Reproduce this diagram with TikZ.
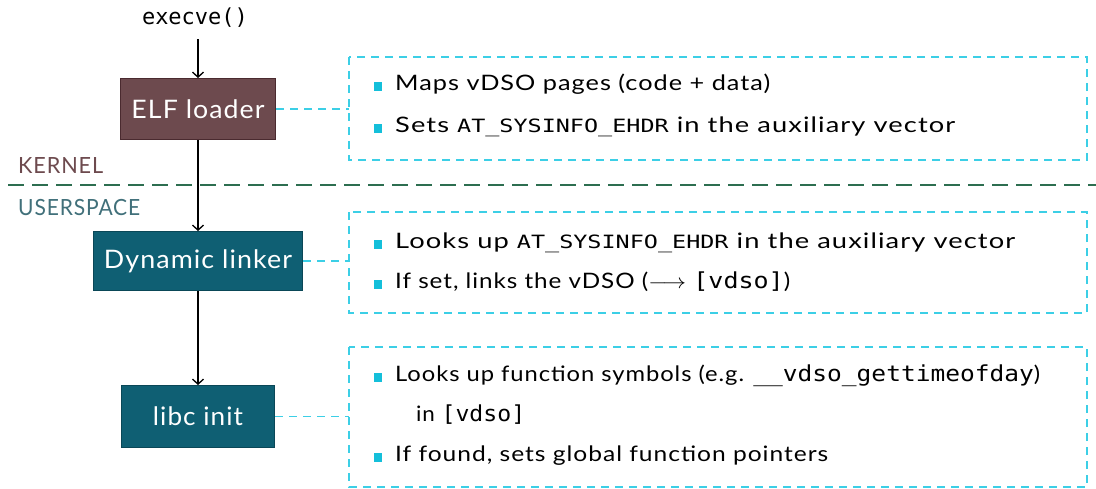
\documentclass[tikz,border=0pt]{standalone}
\usepackage{fontspec}
\usepackage{graphicx}
\setmainfont{Lato}[LetterSpace=4]
\setmonofont{DejaVu Sans Mono}
\usetikzlibrary{arrows.meta}
\definecolor{kbrown}{HTML}{6D4A4E}
\definecolor{kbrownd}{HTML}{4A2A2F}
\definecolor{uteal}{HTML}{0F5F73}
\definecolor{utealb}{HTML}{0A4757}
\definecolor{cyanl}{HTML}{3CCFE6}
\definecolor{cyanb}{HTML}{14BFDA}
\definecolor{sepgreen}{HTML}{2D6E50}
\definecolor{ulabel}{HTML}{41707A}
\tikzset{
  stagebox/.style={draw, line width=1pt, text=white, font=\fontsize{25.5}{28}\selectfont, inner sep=0pt, anchor=north west},
  infobox/.style={draw=cyanl, line width=1.4pt, dash pattern=on 8pt off 6pt},
  flow/.style={-{Straight Barb[length=5pt,width=11pt]}, line width=1.3pt, black},
  link/.style={draw=cyanl, line width=1.6pt, dash pattern=on 8pt off 6pt},
  itemtext/.style={anchor=base west, inner sep=0pt, font=\fontsize{21.3}{24}\selectfont},
  zonetext/.style={anchor=base west, inner sep=0pt, font=\fontsize{22.3}{24}\selectfont},
  bullet/.style={fill=cyanb, minimum size=8.5pt, inner sep=0pt},
}
\newcommand{\fitw}[2]{\resizebox{#1}{\height}{#2}}
\newcommand{\mtt}[1]{{\fontsize{22}{24}\selectfont\ttfamily #1}}
\newcommand{\mts}[1]{{\fontsize{18.3}{20}\selectfont\ttfamily #1}}
\begin{document}
\begin{tikzpicture}[x=1pt,y=-1pt]
\useasboundingbox (0,0) rectangle (1096,488);
% execve
\node[font=\fontsize{22}{24}\selectfont\ttfamily, inner sep=0pt] (exe) at (195,18) {\fitw{106pt}{execve()}};
% stage boxes
\node[stagebox, fill=kbrown, draw=kbrownd, minimum width=155pt, minimum height=61pt] (elf) at (120,78) {\fitw{133pt}{ELF loader}};
\node[stagebox, fill=uteal, draw=utealb, minimum width=209pt, minimum height=59pt] (dyn) at (93,231) {\fitw{188pt}{Dynamic linker}};
\node[stagebox, fill=uteal, draw=utealb, minimum width=153pt, minimum height=62pt] (libc) at (121,385) {\fitw{90pt}{libc init}};
% flow arrows
\draw[flow] (elf.north |- 0,39) -- (elf.north);
\draw[flow] (elf.south) -- (dyn.north);
\draw[flow] (dyn.south) -- (libc.north);
% separator
\draw[sepgreen, line width=2pt, dash pattern=on 16pt off 8pt] (8,185) -- (1096,185);
\node[zonetext, text=kbrown] (klabel) at (18,173) {\fitw{85pt}{KERNEL}};
\node[zonetext, text=ulabel] (ulab) at (18,215) {\fitw{122pt}{USERSPACE}};
% info boxes
\draw[infobox] (349,57) rectangle (1087,160);
\coordinate (i1w) at (349,108.5);
\draw[infobox] (349,212) rectangle (1087,313);
\coordinate (i2w) at (349,261);
\draw[infobox] (349,347) rectangle (1087,487);
\coordinate (i3w) at (349,416);
\draw[link] (elf.east) -- (elf.east -| i1w);
\draw[link] (dyn.east) -- (dyn.east -| i2w);
\draw[link] (libc.east) -- (libc.east -| i3w);
% box 1 text
\node[bullet] (b11) at (378,86.5) {};
\node[itemtext] (t11) at (395,90.5) {\fitw{375pt}{Maps vDSO pages (code + data)}};
\node[bullet] (b12) at (378,128.5) {};
\node[itemtext] (t12) at (395,132.5) {\fitw{560pt}{Sets \mts{AT\_SYSINFO\_EHDR} in the auxiliary vector}};
% box 2 text
\node[bullet] (b21) at (378,244.3) {};
\node[itemtext] (t21) at (395,248.3) {\fitw{620pt}{Looks up \mts{AT\_SYSINFO\_EHDR} in the auxiliary vector}};
\node[bullet] (b22) at (378,284.3) {};
\node[itemtext] (t22) at (395,288.3) {\fitw{395pt}{If set, links the vDSO ($\longrightarrow$ \mtt{[vdso]})}};
% box 3 text
\node[bullet] (b31) at (378,377.7) {};
\node[itemtext] (t31) at (395,381.7) {\fitw{645pt}{Looks up function symbols (e.g. \mtt{\_\_vdso\_gettimeofday})}};
\node[itemtext] (t32) at (416,421.7) {\fitw{109pt}{in \mtt{[vdso]}}};
\node[bullet] (b33) at (378,457.7) {};
\node[itemtext] (t33) at (395,461.7) {\fitw{433pt}{If found, sets global function pointers}};
\end{tikzpicture}
\end{document}
